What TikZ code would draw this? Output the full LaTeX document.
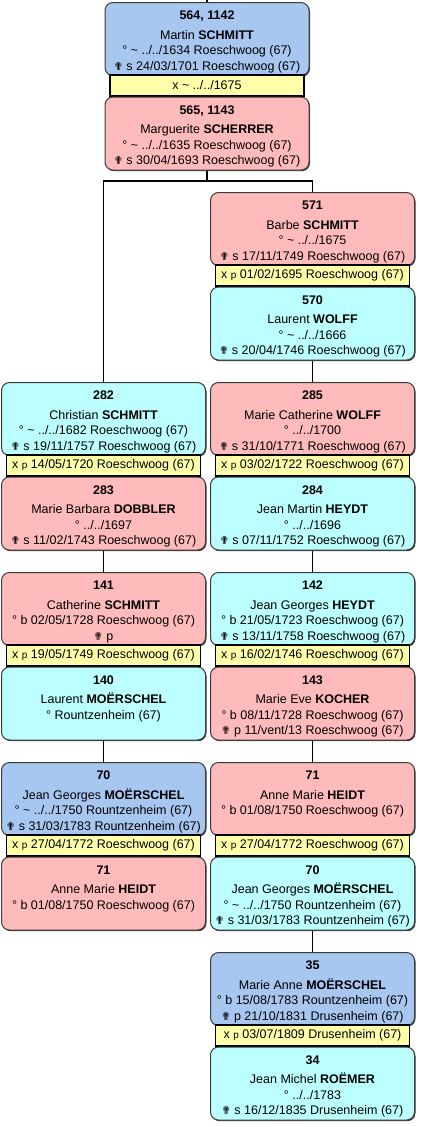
\documentclass[tikz,border=0pt]{standalone}
\usepackage{fontspec}
\setmainfont{Liberation Sans}
\newfontfamily\dejavu{DejaVu Sans}
\usepackage{tikz}
\usetikzlibrary{shadows}
\definecolor{fichebleu}{RGB}{168, 199, 240}
\definecolor{ficherose}{RGB}{255, 187, 187}
\definecolor{fichecyan}{RGB}{187, 255, 255}
\definecolor{jauneunion}{RGB}{255, 255, 170}
\definecolor{bordfiche}{RGB}{60, 60, 60}
\newcommand{\croix}{{\dejavu\fontsize{11}{11}\selectfont ✟}}
\newcommand{\xp}{x {\fontsize{10}{10}\selectfont p}}
\newcommand{\env}{\textasciitilde}

\begin{document}
\begin{tikzpicture}[
  x=1pt, y=-1pt,
  font=\fontsize{12.5}{15.5}\selectfont,
  fiche/.style={draw=bordfiche, fill=#1, rounded corners=8pt, line width=1pt, anchor=north,
    inner xsep=2pt, inner ysep=8.5pt,
    execute at begin node={\begin{minipage}[t][56pt][t]{200pt}\centering},
    execute at end node={\end{minipage}},
    drop shadow={shadow xshift=1pt, shadow yshift=-1.2pt, fill=black!75, opacity=1}},
  fiche/.default=ficherose,
  union/.style={draw=black, fill=jauneunion, line width=1.2pt, minimum width=194pt, minimum height=21pt, inner sep=0pt},
  lien/.style={line width=1.6pt, black}
]
\path[use as bounding box, fill=white] (0,0) rectangle (422,1127);
% Rang 0 : couple de tete
\node[fiche=fichebleu] (p564) at (207,2) {\textbf{564, 1142}\\[4pt]Martin \textbf{SCHMITT}\\° \env{} ../../1634 Roeschwoog (67)\\\croix{} s 24/03/1701 Roeschwoog (67)};
\node[union] (m564) at (207,85.5) {x \env{} ../../1675};
\node[fiche=ficherose] (p565) at (207,96.5) {\textbf{565, 1143}\\[4pt]Marguerite \textbf{SCHERRER}\\° \env{} ../../1635 Roeschwoog (67)\\\croix{} s 30/04/1693 Roeschwoog (67)};
% Rang 1
\node[fiche=ficherose] (p571) at (312.5,192) {\textbf{571}\\[4pt]Barbe \textbf{SCHMITT}\\° \env{} ../../1675\\\croix{} s 17/11/1749 Roeschwoog (67)};
\node[union] (m571) at (312.5,275.5) {\xp{} 01/02/1695 Roeschwoog (67)};
\node[fiche=fichecyan] (p570) at (312.5,286.5) {\textbf{570}\\[4pt]Laurent \textbf{WOLFF}\\° \env{} ../../1666\\\croix{} s 20/04/1746 Roeschwoog (67)};
% Rang 2
\node[fiche=fichecyan] (p282) at (103.5,382) {\textbf{282}\\[4pt]Christian \textbf{SCHMITT}\\° \env{} ../../1682 Roeschwoog (67)\\\croix{} s 19/11/1757 Roeschwoog (67)};
\node[union] (m282) at (103.5,465.5) {\xp{} 14/05/1720 Roeschwoog (67)};
\node[fiche=ficherose] (p283) at (103.5,476.5) {\textbf{283}\\[4pt]Marie Barbara \textbf{DOBBLER}\\° ../../1697\\\croix{} s 11/02/1743 Roeschwoog (67)};
\node[fiche=ficherose] (p285) at (312.5,382) {\textbf{285}\\[4pt]Marie Catherine \textbf{WOLFF}\\° ../../1700\\\croix{} s 31/10/1771 Roeschwoog (67)};
\node[union] (m285) at (312.5,465.5) {\xp{} 03/02/1722 Roeschwoog (67)};
\node[fiche=fichecyan] (p284) at (312.5,476.5) {\textbf{284}\\[4pt]Jean Martin \textbf{HEYDT}\\° ../../1696\\\croix{} s 07/11/1752 Roeschwoog (67)};
% Rang 3
\node[fiche=ficherose] (p141) at (103.5,572) {\textbf{141}\\[4pt]Catherine \textbf{SCHMITT}\\° b 02/05/1728 Roeschwoog (67)\\\croix{} p};
\node[union] (m141) at (103.5,655.5) {\xp{} 19/05/1749 Roeschwoog (67)};
\node[fiche=fichecyan] (p140) at (103.5,666.5) {\textbf{140}\\[4pt]Laurent \textbf{MOËRSCHEL}\\° Rountzenheim (67)};
\node[fiche=fichecyan] (p142) at (312.5,572) {\textbf{142}\\[4pt]Jean Georges \textbf{HEYDT}\\° b 21/05/1723 Roeschwoog (67)\\\croix{} s 13/11/1758 Roeschwoog (67)};
\node[union] (m142) at (312.5,655.5) {\xp{} 16/02/1746 Roeschwoog (67)};
\node[fiche=ficherose] (p143) at (312.5,666.5) {\textbf{143}\\[4pt]Marie Eve \textbf{KOCHER}\\° b 08/11/1728 Roeschwoog (67)\\\croix{} p 11/vent/13 Roeschwoog (67)};
% Rang 4
\node[fiche=fichebleu] (p70g) at (103.5,762) {\textbf{70}\\[4pt]Jean Georges \textbf{MOËRSCHEL}\\° \env{} ../../1750 Rountzenheim (67)\\\croix{} s 31/03/1783 Rountzenheim (67)};
\node[union] (m70g) at (103.5,845.5) {\xp{} 27/04/1772 Roeschwoog (67)};
\node[fiche=ficherose] (p71g) at (103.5,856.5) {\textbf{71}\\[4pt]Anne Marie \textbf{HEIDT}\\° b 01/08/1750 Roeschwoog (67)};
\node[fiche=ficherose] (p71d) at (312.5,762) {\textbf{71}\\[4pt]Anne Marie \textbf{HEIDT}\\° b 01/08/1750 Roeschwoog (67)};
\node[union] (m71d) at (312.5,845.5) {\xp{} 27/04/1772 Roeschwoog (67)};
\node[fiche=fichecyan] (p70d) at (312.5,856.5) {\textbf{70}\\[4pt]Jean Georges \textbf{MOËRSCHEL}\\° \env{} ../../1750 Rountzenheim (67)\\\croix{} s 31/03/1783 Rountzenheim (67)};
% Rang 5
\node[fiche=fichebleu] (p35) at (312.5,952) {\textbf{35}\\[4pt]Marie Anne \textbf{MOËRSCHEL}\\° b 15/08/1783 Rountzenheim (67)\\\croix{} p 21/10/1831 Drusenheim (67)};
\node[union] (m35) at (312.5,1035.5) {\xp{} 03/07/1809 Drusenheim (67)};
\node[fiche=fichecyan] (p34) at (312.5,1046.5) {\textbf{34}\\[4pt]Jean Michel \textbf{ROËMER}\\° ../../1783\\\croix{} s 16/12/1835 Drusenheim (67)};
% Liens
\coordinate (haut) at (207,0);
\coordinate (fourche) at (207,181);
\draw[lien] (haut) -- (p564.north);
\draw[lien] (p565.south) -- (fourche);
\draw[lien] (fourche) -| (p282.north);
\draw[lien] (fourche) -| (p571.north);
\draw[lien] (p570.south) -- (p285.north);
\draw[lien] (p283.south) -- (p141.north);
\draw[lien] (p284.south) -- (p142.north);
\draw[lien] (p140.south) -- (p70g.north);
\draw[lien] (p143.south) -- (p71d.north);
\draw[lien] (p70d.south) -- (p35.north);
\end{tikzpicture}
\end{document}
